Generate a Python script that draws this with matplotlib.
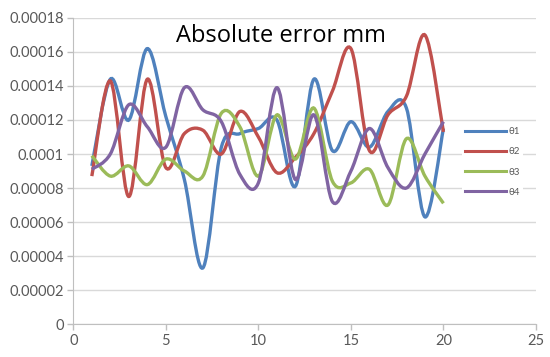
import numpy as np
import matplotlib
matplotlib.use("Agg")
import matplotlib.pyplot as plt
from matplotlib.path import Path
from matplotlib.patches import PathPatch
from matplotlib.lines import Line2D

# data
x = list(range(1, 21))
theta1 = [0.000093, 0.000144, 0.000120, 0.000162, 0.000122, 0.000085, 0.000033, 0.000104, 0.000112, 0.000115,
          0.000120, 0.000081, 0.000144, 0.000102, 0.000119, 0.000104, 0.000125, 0.000127, 0.000063, 0.000115]
theta2 = [0.000087, 0.000143, 0.000075, 0.000144, 0.000092, 0.000112, 0.000114, 0.000100, 0.000125, 0.000110,
          0.000089, 0.000098, 0.000112, 0.000137, 0.000162, 0.000102, 0.000123, 0.000134, 0.000170, 0.000113]
theta3 = [0.000099, 0.000087, 0.000093, 0.000082, 0.000097, 0.000090, 0.000087, 0.000124, 0.000116, 0.000087,
          0.000123, 0.000097, 0.000127, 0.000084, 0.000083, 0.000091, 0.000070, 0.000109, 0.000087, 0.000071]
theta4 = [0.000091, 0.000100, 0.000129, 0.000116, 0.000104, 0.000139, 0.000126, 0.000119, 0.000088, 0.000083,
          0.000139, 0.000085, 0.000123, 0.000072, 0.000090, 0.000115, 0.000092, 0.000080, 0.000100, 0.000119]
series_names = ["θ1", "θ2", "θ3", "θ4"]
colors = ["#4F81BD", "#C0504D", "#9BBB59", "#8064A2"]

yticks = [0, 0.00002, 0.00004, 0.00006, 0.00008, 0.0001, 0.00012, 0.00014, 0.00016, 0.00018]
ytick_labels = ["0", "0.00002", "0.00004", "0.00006", "0.00008", "0.0001",
                "0.00012", "0.00014", "0.00016", "0.00018"]
xticks = [0, 5, 10, 15, 20, 25]

plt.rcParams['font.family'] = ['Lato', 'DejaVu Sans']


def smooth_path(xs, ys):
    """Excel style smoothed line: Catmull-Rom segments drawn as cubic Bezier curves"""
    n = len(xs)
    verts = [(xs[0], ys[0])]
    codes = [Path.MOVETO]
    for i in range(n - 1):
        a = i - 1 if i > 0 else i
        d = i + 2 if i + 2 < n else i + 1
        c1 = (xs[i] + (xs[i + 1] - xs[a]) / 6, ys[i] + (ys[i + 1] - ys[a]) / 6)
        c2 = (xs[i + 1] - (xs[d] - xs[i]) / 6, ys[i + 1] - (ys[d] - ys[i]) / 6)
        verts += [c1, c2, (xs[i + 1], ys[i + 1])]
        codes += [Path.CURVE4] * 3
    return Path(verts, codes)


fig = plt.figure(figsize=(5.5, 3.57), dpi=100)
ax = fig.add_axes([0.1333, 0.0924, 0.9745 - 0.1333, 0.9496 - 0.0924])

handles = []
for ys, c, name in zip([theta1, theta2, theta3, theta4], colors, series_names):
    patch = PathPatch(smooth_path(x, ys), facecolor="none", edgecolor=c, lw=2.4, zorder=3)
    ax.add_patch(patch)
    handles.append(Line2D([], [], color=c, lw=2.2, label=name))

ax.set_xlim(0, 25)
ax.set_ylim(0, 0.00018)
ax.set_xticks(xticks)
ax.set_yticks(yticks)
ax.set_yticklabels(ytick_labels)
ax.grid(axis="y", color="#d9d9d9", lw=1)
ax.set_axisbelow(True)
for s in ["top", "right"]:
    ax.spines[s].set_visible(False)
for s in ["left", "bottom"]:
    ax.spines[s].set_color("#bfbfbf")
ax.tick_params(colors="#bfbfbf", labelcolor="#595959", labelsize=10.5, length=4, width=1, pad=3)

fig.text(281 / 550, 1 - 36 / 357, "Absolute error mm", ha="center", va="center",
         fontsize=17, color="black", family=["Open Sans", "DejaVu Sans"])

leg = ax.legend(handles=handles, loc="center left", bbox_to_anchor=(462 / 550, 1 - 162 / 357),
                bbox_transform=fig.transFigure, frameon=True, fontsize=7, handlelength=4.2,
                handletextpad=0.3, labelspacing=1.15, borderpad=0.3, borderaxespad=0)
leg.get_frame().set_facecolor("white")
leg.get_frame().set_edgecolor("none")
leg.get_frame().set_alpha(1)
for t in leg.get_texts():
    t.set_color("#595959")

fig.savefig("out.png", dpi=100)
